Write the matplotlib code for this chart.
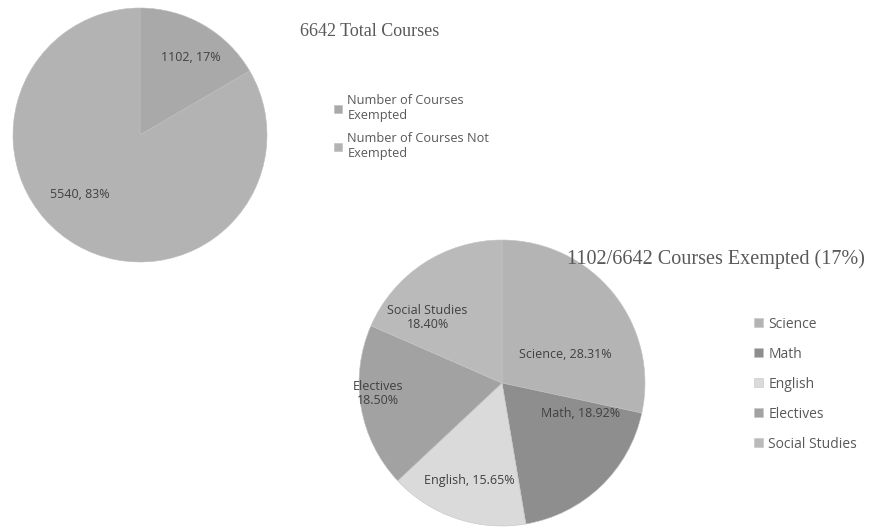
import matplotlib.pyplot as plt

# top pie: exempted vs not exempted
total_labels = ["Number of Courses\nExempted", "Number of Courses Not\nExempted"]
total_counts = [1102, 5540]
total_pcts = [17, 83]

# bottom pie: exempted courses by subject (percent)
subjects = ["Science", "Math", "English", "Electives", "Social Studies"]
subject_pcts = [28.31, 18.92, 15.65, 18.50, 18.40]

W, H = 870, 529


def px_axes(fig, cx, cy, r):
    # square axes centered on pixel (cx, cy) from top-left, radius r px
    return fig.add_axes([(cx - r) / W, (H - cy - r) / H, 2 * r / W, 2 * r / H])


fig = plt.figure(figsize=(W / 100, H / 100), dpi=100)
serif = "Liberation Serif"
sans = "Open Sans"
text_gray = "#595959"

# ---- top pie ----
ax1 = px_axes(fig, 140, 135, 127)
w1, _ = ax1.pie(total_counts, colors=["#a9a9a9", "#b3b3b3"], startangle=90,
                counterclock=False, radius=1,
                wedgeprops=dict(linewidth=0.4, edgecolor="#bdbdbd"))
ax1.set_xlim(-1, 1)
ax1.set_ylim(-1, 1)
top_label_pos = [(0.40, 0.61), (-0.47, -0.47)]
for (x, y), c, p in zip(top_label_pos, total_counts, total_pcts):
    ax1.text(x, y, f"{c}, {p}%", ha="center", va="center", fontsize=9,
             color="#404040", family=sans)

fig.text(300 / W, 1 - 32 / H, "6642 Total Courses", fontsize=13, family=serif,
         color=text_gray, ha="left", va="center")
fig.legend(w1, total_labels, loc="upper left", bbox_to_anchor=(323 / W, 1 - 83 / H),
           frameon=False, handlelength=0.6, handleheight=0.6,
           handletextpad=0.4, labelspacing=0.75, labelcolor=text_gray,
           prop=dict(family=sans, size=9.2))

# ---- bottom pie ----
ax2 = px_axes(fig, 502, 383, 143)
w2, _ = ax2.pie(subject_pcts, colors=["#b4b4b4", "#8e8e8e", "#dadada", "#a2a2a2", "#bababa"],
                startangle=90, counterclock=False, radius=1,
                wedgeprops=dict(linewidth=0.4, edgecolor="#c4c4c4"))
ax2.set_xlim(-1, 1)
ax2.set_ylim(-1, 1)
sub_label_pos = [(0.44, 0.20), (0.55, -0.21), (-0.23, -0.68), (-0.87, -0.07), (-0.52, 0.46)]
sub_label_sep = [", ", ", ", ", ", "\n", "\n"]
for (x, y), s, p, sep in zip(sub_label_pos, subjects, subject_pcts, sub_label_sep):
    ax2.text(x, y, f"{s}{sep}{p:.2f}%", ha="center", va="center", fontsize=9,
             color="#404040", family=sans, linespacing=1.1)

fig.text(716 / W, 1 - 259 / H, "1102/6642 Courses Exempted (17%)", fontsize=14.5,
         family=serif, color=text_gray, ha="center", va="center")
fig.legend(w2, subjects, loc="upper left", bbox_to_anchor=(742 / W, 1 - 304 / H),
           frameon=False, handlelength=0.6, handleheight=0.6,
           handletextpad=0.4, labelspacing=1.08, labelcolor=text_gray,
           prop=dict(family=sans, size=10))

fig.savefig("out.png", dpi=100, facecolor="white")
